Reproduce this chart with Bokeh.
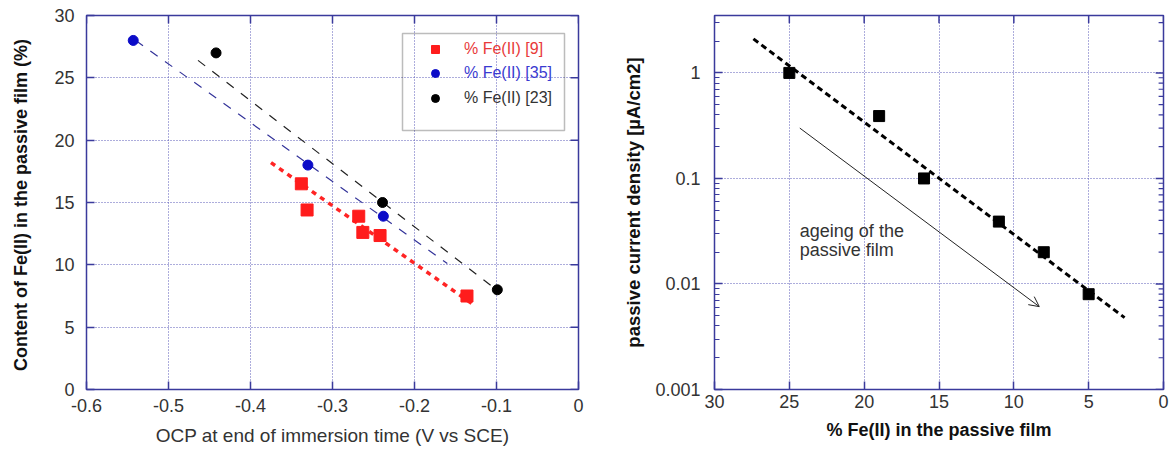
from bokeh.plotting import figure
from bokeh.layouts import row
from bokeh.models import (Range1d, FixedTicker, Legend, LegendItem,
                          BoxAnnotation, Arrow, OpenHead, Label, CustomJSTickFormatter)
from bokeh.embed import file_html
from bokeh.resources import INLINE
import numpy as np

# ---------------- data: left chart ----------------
ocp_ref9 = [-0.338, -0.331, -0.268, -0.263, -0.242, -0.136]
fe_ref9 = [16.5, 14.4, 13.9, 12.6, 12.35, 7.5]
ocp_ref35 = [-0.543, -0.330, -0.238]
fe_ref35 = [28.0, 18.0, 13.9]
ocp_ref23 = [-0.442, -0.239, -0.099]
fe_ref23 = [27.0, 15.0, 8.0]
fit9_x = [-0.375, -0.128]
fit9_y = [18.2, 6.8]
fit35_x = [-0.54, -0.16]
fit35_y = [28.0, 10.1]
fit23_x = [-0.464, -0.10]
fit23_y = [26.4, 8.0]
left_xticks = [-0.6, -0.5, -0.4, -0.3, -0.2, -0.1, 0.0]
left_yticks = [0, 5, 10, 15, 20, 25, 30]
legend_labels = ["% Fe(II) [9]", "% Fe(II) [35]", "% Fe(II) [23]"]

# ---------------- data: right chart ----------------
fe_film = [25, 19, 16, 11, 8, 5]
j_pass = [1.0, 0.39, 0.1, 0.039, 0.02, 0.008]
fitj_x = [27.4, 2.6]
fitj_y = [2.1, 0.0048]
arrow_x = [24.3, 8.3]
arrow_y = [0.3, 0.0061]
note_lines = ["ageing of the", "passive film"]
note_x = 24.3
note_y = [0.0315, 0.021]
right_xticks = [30, 25, 20, 15, 10, 5, 0]
right_yticks = [0.001, 0.01, 0.1, 1]
right_yminor = [m * d for d in [0.001, 0.01, 0.1, 1] for m in range(2, 10)]

FONT = "Liberation Sans"
FRAME = "#3a3a9c"
GRID = "#5a5ab8"
TXT = "#333333"

# frame geometry (px) used for tick-mark lengths on the opposite sides
L_FW, L_FH = 492, 374
R_FW, R_FH = 458, 382
TICK = 8


def style_axis(ax, standoff):
    ax.axis_line_color = None
    ax.major_tick_in = TICK
    ax.major_tick_out = 0
    ax.minor_tick_in = 0
    ax.minor_tick_out = 0
    ax.major_tick_line_color = FRAME
    ax.major_tick_line_width = 1.5
    ax.major_label_text_font = FONT
    ax.major_label_text_color = TXT
    ax.major_label_text_font_size = "18px"
    ax.major_label_standoff = standoff


# ================= left figure =================
xr1 = Range1d(-0.6, 0.0)
yr1 = Range1d(0, 30)
p1 = figure(width=620, height=454, output_backend="svg", toolbar_location=None,
            x_range=xr1, y_range=yr1,
            min_border_left=86, min_border_right=42, min_border_top=15, min_border_bottom=65)
p1.outline_line_color = FRAME
p1.outline_line_width = 1.5

xt1 = FixedTicker(ticks=left_xticks)
yt1 = FixedTicker(ticks=left_yticks)
p1.xaxis.ticker = xt1
p1.yaxis.ticker = yt1
p1.xgrid.ticker = xt1
p1.ygrid.ticker = yt1
for g in (p1.xgrid[0], p1.ygrid[0]):
    g.grid_line_color = GRID
    g.grid_line_width = 1
    g.grid_line_dash = "1 2"

style_axis(p1.xaxis[0], 9)
style_axis(p1.yaxis[0], 12)
p1.xaxis.formatter = CustomJSTickFormatter(code="return tick.toFixed(1).replace('-0.0','0').replace(/^0\\.0$/,'0');")
p1.yaxis.formatter = CustomJSTickFormatter(code="return tick.toFixed(0);")
p1.xaxis.axis_label = "OCP at end of immersion time (V vs SCE)"
p1.xaxis.axis_label_text_font = FONT
p1.xaxis.axis_label_text_font_style = "normal"
p1.xaxis.axis_label_text_font_size = "19px"
p1.xaxis.axis_label_text_color = TXT
p1.xaxis.axis_label_standoff = 10
p1.yaxis.axis_label = "Content of Fe(II) in the passive film  (%)"
p1.yaxis.axis_label_text_font = FONT
p1.yaxis.axis_label_text_font_style = "bold"
p1.yaxis.axis_label_text_font_size = "18px"
p1.yaxis.axis_label_text_color = "#111111"
p1.yaxis.axis_label_standoff = 20

# inward tick marks on the right and top edges, derived from the tick lists
dx1 = (xr1.end - xr1.start) * TICK / L_FW
dy1 = (yr1.end - yr1.start) * TICK / L_FH
p1.segment(x0=[xr1.end] * len(left_yticks), y0=left_yticks,
           x1=[xr1.end - dx1] * len(left_yticks), y1=left_yticks,
           line_color=FRAME, line_width=1.5)
p1.segment(x0=left_xticks, y0=[yr1.end] * len(left_xticks),
           x1=left_xticks, y1=[yr1.end - dy1] * len(left_xticks),
           line_color=FRAME, line_width=1.5)

p1.line(fit35_x, fit35_y, line_color="#34349a", line_width=1.2, line_dash="9 9")
p1.line(fit23_x, fit23_y, line_color="#222222", line_width=1.2, line_dash="9 9")
p1.line(fit9_x, fit9_y, line_color="#ff2424", line_width=3.5, line_dash="5 5")

r9 = p1.scatter(ocp_ref9, fe_ref9, marker="square", size=12, color="#ff1c1c")
r35 = p1.scatter(ocp_ref35, fe_ref35, marker="circle", size=10, color="#0c0cc8")
r23 = p1.scatter(ocp_ref23, fe_ref23, marker="circle", size=10, color="#000000")

leg_colors = ["#e83a3a", "#3a3ad0", "#333333"]
leg_vy = [330, 306, 281]
for lab, rr, col, vy in zip(legend_labels, [r9, r35, r23], leg_colors, leg_vy):
    lg = Legend(items=[LegendItem(label=lab, renderers=[rr])], location=(339, vy),
                padding=0, margin=0, border_line_color=None, background_fill_alpha=0,
                label_text_color=col, label_text_font=FONT, label_text_font_size="16px",
                glyph_width=20, glyph_height=20, label_height=20, label_standoff=19, spacing=0)
    p1.add_layout(lg)

p1.add_layout(BoxAnnotation(left=316, right=478, top=356, bottom=259,
                            left_units="screen", right_units="screen",
                            top_units="screen", bottom_units="screen",
                            fill_alpha=0, line_color="#222222", line_width=1.5))

# ================= right figure =================
xr2 = Range1d(30, 0)
yr2 = Range1d(0.001, 3.5)
p2 = figure(width=550, height=454, output_backend="svg", toolbar_location=None,
            x_range=xr2, y_range=yr2, y_axis_type="log",
            min_border_left=85, min_border_right=7, min_border_top=13, min_border_bottom=59)
p2.outline_line_color = FRAME
p2.outline_line_width = 1.5

xt2 = FixedTicker(ticks=right_xticks)
yt2 = FixedTicker(ticks=right_yticks, minor_ticks=right_yminor)
p2.xaxis.ticker = xt2
p2.yaxis.ticker = yt2
p2.xgrid.ticker = xt2
p2.ygrid.ticker = yt2
for g in (p2.xgrid[0], p2.ygrid[0]):
    g.grid_line_color = GRID
    g.grid_line_width = 1
    g.grid_line_dash = "1 2"

style_axis(p2.xaxis[0], 5)
style_axis(p2.yaxis[0], 14)
p2.yaxis[0].minor_tick_in = 5
p2.yaxis[0].minor_tick_line_color = FRAME
p2.yaxis[0].minor_tick_line_width = 1.2
p2.yaxis.formatter = CustomJSTickFormatter(code="return tick.toString();")
p2.xaxis.formatter = CustomJSTickFormatter(code="return tick.toFixed(0);")
p2.xaxis.axis_label = "% Fe(II) in the passive film"
p2.xaxis.axis_label_text_font = FONT
p2.xaxis.axis_label_text_font_style = "bold"
p2.xaxis.axis_label_text_font_size = "18px"
p2.xaxis.axis_label_text_color = "#111111"
p2.xaxis.axis_label_standoff = 9
p2.yaxis.axis_label = "passive current density [µA/cm2]"
p2.yaxis.axis_label_text_font = FONT
p2.yaxis.axis_label_text_font_style = "bold"
p2.yaxis.axis_label_text_font_size = "18.5px"
p2.yaxis.axis_label_text_color = "#111111"
p2.yaxis.axis_label_standoff = 8

# inward tick marks on the right (major + minor) and top edges
dx2 = (xr2.start - xr2.end) * TICK / R_FW
dx2m = (xr2.start - xr2.end) * 5 / R_FW
fy2 = 10 ** (np.log10(yr2.end / yr2.start) * TICK / R_FH)
p2.segment(x0=[xr2.end] * len(right_yticks), y0=right_yticks,
           x1=[xr2.end + dx2] * len(right_yticks), y1=right_yticks,
           line_color=FRAME, line_width=1.5)
p2.segment(x0=[xr2.end] * len(right_yminor), y0=right_yminor,
           x1=[xr2.end + dx2m] * len(right_yminor), y1=right_yminor,
           line_color=FRAME, line_width=1.2)
p2.segment(x0=right_xticks, y0=[yr2.end] * len(right_xticks),
           x1=right_xticks, y1=[yr2.end / fy2] * len(right_xticks),
           line_color=FRAME, line_width=1.5)

p2.line(fitj_x, fitj_y, line_color="#000000", line_width=3, line_dash="6 4")
p2.scatter(fe_film, j_pass, marker="square", size=11, color="#000000")

p2.add_layout(Arrow(end=OpenHead(size=10, line_width=1, line_color="#222222"),
                    x_start=arrow_x[0], y_start=arrow_y[0], x_end=arrow_x[1], y_end=arrow_y[1],
                    line_width=1, line_color="#222222"))
for txt, yy in zip(note_lines, note_y):
    p2.add_layout(Label(x=note_x, y=yy, text=txt, text_baseline="alphabetic",
                        text_font=FONT, text_font_size="18px", text_color=TXT))

layout = row(p1, p2)
open("out.html", "w").write(file_html(layout, INLINE))
